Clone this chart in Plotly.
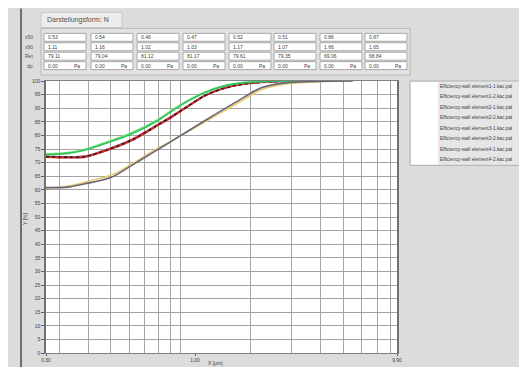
import math
import plotly.graph_objects as go

# ---------------- data ----------------
x_upper = [0.263, 0.328, 0.387, 0.487, 0.613, 0.799, 0.911, 1.075, 1.268, 1.546, 1.884, 2.452, 3.192, 3.90]
eff_e1_1 = [72.0, 71.8, 72.0, 74.6, 78.0, 83.7, 86.6, 90.6, 94.5, 97.3, 98.9, 99.7, 100.0, 100.0]
eff_e1_2 = [72.2, 72.0, 72.2, 74.8, 78.2, 83.9, 86.8, 90.8, 94.6, 97.4, 99.0, 99.7, 100.0, 100.0]
eff_e2_1 = [72.9, 73.4, 74.6, 77.4, 80.5, 85.5, 88.8, 92.6, 95.7, 98.2, 99.4, 99.9, 100.0, 100.0]
eff_e2_2 = [73.2, 73.7, 74.9, 77.8, 81.0, 85.9, 89.1, 92.9, 95.9, 98.3, 99.5, 99.9, 100.0, 100.0]
eff_e3_1 = [72.3, 72.1, 72.4, 75.0, 78.5, 84.1, 87.0, 90.9, 94.7, 97.5, 99.0, 99.7, 100.0, 100.0]
eff_e3_2 = [72.1, 71.9, 72.1, 74.7, 78.2, 83.8, 86.7, 90.7, 94.6, 97.4, 98.9, 99.7, 100.0, 100.0]

x_lower = [0.263, 0.328, 0.387, 0.503, 0.613, 0.748, 0.911, 1.268, 1.763, 2.221, 2.892, 4.156, 5.50]
eff_e4_1 = [60.6, 61.4, 62.8, 65.4, 69.4, 73.9, 78.0, 84.9, 91.9, 96.8, 99.0, 99.8, 100.0]
eff_e4_2 = [60.8, 61.0, 62.2, 64.6, 68.9, 73.4, 77.8, 85.4, 92.7, 97.5, 99.4, 99.9, 100.0]

series_names = [
    "Efficiency-wall element1-1.kac.pal",
    "Efficiency-wall element1-2.kac.pal",
    "Efficiency-wall element2-1.kac.pal",
    "Efficiency-wall element2-2.kac.pal",
    "Efficiency-wall element3-1.kac.pal",
    "Efficiency-wall element3-2.kac.pal",
    "Efficiency-wall element4-1.kac.pal",
    "Efficiency-wall element4-2.kac.pal",
]
series_colors = ["#e02828", "#3a1a1a", "#2ec45a", "#7ee07e", "#c04848", "#8a3a7a", "#e6cc6a", "#6a6478"]
series_dash = ["solid", "dot", "solid", "solid", "solid", "solid", "solid", "solid"]

row_labels = ["x50", "x90", "Ret", "dp"]
x50_vals = ["0.53", "0.54", "0.46", "0.47", "0.52", "0.51", "0.86", "0.87"]
x90_vals = ["1.11", "1.16", "1.02", "1.03", "1.17", "1.07", "1.66", "1.65"]
ret_vals = ["79.11", "79.04", "81.12", "81.17", "79.61", "79.35", "69.06", "68.84"]
dp_vals = ["0.00", "0.00", "0.00", "0.00", "0.00", "0.00", "0.00", "0.00"]

x_tick_vals = [0.263, 1.152, 8.53]
x_tick_text = ["0.30", "1.00", "9.90"]
x_grid_vals = [0.3, 0.4, 0.5, 0.6, 0.7, 0.8, 0.9, 1, 2, 3, 4, 5, 6, 7, 8, 9]
y_tick_vals = list(range(0, 101, 5))

# ---------------- layout helpers ----------------
W, H = 527, 367
L, R, T, B = 38, 138, 73, 20
PW, PH = W - L - R, H - T - B
FONT = "Arial, Liberation Sans, sans-serif"


def px(x):
    return (x - L) / PW


def py(y):
    return (H - B - y) / PH


fig = go.Figure()

ys = [eff_e1_1, eff_e1_2, eff_e2_1, eff_e2_2, eff_e3_1, eff_e3_2, eff_e4_1, eff_e4_2]
xs = [x_upper] * 6 + [x_lower] * 2
order = [4, 5, 0, 1, 3, 2, 6, 7]
for i in order:
    fig.add_trace(go.Scatter(
        x=xs[i], y=ys[i], mode="lines", name=series_names[i],
        line=dict(color=series_colors[i], width=1.6, dash=series_dash[i], shape="spline", smoothing=0.8),
        showlegend=False, hoverinfo="skip"))

shapes = []
annotations = []

# dark window border on the left
shapes.append(dict(type="line", xref="paper", yref="paper", x0=px(13), x1=px(13), y0=py(0), y1=py(367),
                   line=dict(color="#4a4a4a", width=1.5)))

# top tab
shapes.append(dict(type="rect", xref="paper", yref="paper", x0=px(33), x1=px(114), y0=py(19), y1=py(4),
                   fillcolor="#ececec", line=dict(color="#c8c8c8", width=1)))
annotations.append(dict(xref="paper", yref="paper", x=px(37), y=py(11.5), text="Darstellungsform: N",
                        showarrow=False, xanchor="left", yanchor="middle",
                        font=dict(family=FONT, size=7, color="#505050")))

# table panel
shapes.append(dict(type="rect", xref="paper", yref="paper", x0=px(33), x1=px(402), y0=py(67), y1=py(20),
                   fillcolor="#e2e2e2", line=dict(color="#b8b8b8", width=1)))

col_x = [36, 83, 129, 175, 221, 266, 312, 357]
row_y = [29, 38.5, 48, 57.5]
table = [x50_vals, x90_vals, ret_vals, dp_vals]
for r, lab in enumerate(row_labels):
    annotations.append(dict(xref="paper", yref="paper", x=px(27), y=py(row_y[r]), text=lab,
                            showarrow=False, xanchor="right", yanchor="middle",
                            font=dict(family=FONT, size=5, color="#505050")))
    for c, cx in enumerate(col_x):
        shapes.append(dict(type="rect", xref="paper", yref="paper", x0=px(cx), x1=px(cx + 42),
                           y0=py(row_y[r] + 4), y1=py(row_y[r] - 4),
                           fillcolor="#ffffff", line=dict(color="#a8a8a8", width=1)))
        annotations.append(dict(xref="paper", yref="paper", x=px(cx + 2), y=py(row_y[r]), text=table[r][c],
                                showarrow=False, xanchor="left", yanchor="middle",
                                font=dict(family=FONT, size=5, color="#404040")))
        if r == 3:
            annotations.append(dict(xref="paper", yref="paper", x=px(cx + 28), y=py(row_y[r]), text="Pa",
                                    showarrow=False, xanchor="left", yanchor="middle",
                                    font=dict(family=FONT, size=5, color="#404040")))

# legend panel
shapes.append(dict(type="rect", xref="paper", yref="paper", x0=px(402), x1=px(527), y0=py(158), y1=py(73),
                   fillcolor="#e6e6e6", line=dict(color="#b0b0b0", width=1)))
shapes.append(dict(type="rect", xref="paper", yref="paper", x0=px(403), x1=px(430), y0=py(157), y1=py(74),
                   fillcolor="#ffffff", line=dict(width=0)))
leg_y = [78.5, 89, 99.5, 110, 120.5, 131, 141.5, 152]
for i, name in enumerate(series_names):
    annotations.append(dict(xref="paper", yref="paper", x=px(430), y=py(leg_y[i]), text=name,
                            showarrow=False, xanchor="left", yanchor="middle",
                            font=dict(family=FONT, size=4.8, color="#404040")))
    shapes.append(dict(type="line", xref="paper", yref="paper", x0=px(516), x1=px(523),
                       y0=py(leg_y[i] + 2.5), y1=py(leg_y[i] - 3.5),
                       line=dict(color=series_colors[i], width=1.8)))
shapes.append(dict(type="rect", xref="paper", yref="paper", x0=px(515), x1=px(524), y0=py(82.5), y1=py(74.5),
                   line=dict(color="#e02828", width=1)))

# axis titles
annotations.append(dict(xref="paper", yref="paper", x=px(207), y=py(357), text="X [µm]",
                        showarrow=False, xanchor="center", yanchor="middle", borderpad=0,
                        font=dict(family=FONT, size=5, color="#404040")))
annotations.append(dict(xref="paper", yref="paper", x=px(17), y=py(212), text="Y [%]",
                        showarrow=False, xanchor="center", yanchor="middle", textangle=-90,
                        font=dict(family=FONT, size=5, color="#404040")))

fig.update_layout(
    width=W, height=H,
    margin=dict(l=L, r=R, t=T, b=B),
    paper_bgcolor="#dcdcdc",
    plot_bgcolor="#ffffff",
    font=dict(family=FONT, size=5, color="#404040"),
    shapes=shapes,
    annotations=annotations,
    showlegend=False,
)
fig.update_xaxes(
    type="log",
    range=[math.log10(x_tick_vals[0]), math.log10(x_tick_vals[-1])],
    tickmode="array", tickvals=x_tick_vals, ticktext=x_tick_text,
    ticks="outside", ticklen=2, tickcolor="#606060",
    tickfont=dict(family=FONT, size=5, color="#404040"),
    showgrid=False,
    minor=dict(tickmode="array", tickvals=x_grid_vals, showgrid=True, gridcolor="#a4a4a4", gridwidth=1, ticks=""),
    showline=True, linecolor="#808080", linewidth=1, mirror=True,
    zeroline=False,
)
fig.update_yaxes(
    range=[0, 100],
    tickmode="array", tickvals=y_tick_vals, ticktext=[str(v) for v in y_tick_vals],
    ticks="outside", ticklen=3, tickcolor="#606060",
    tickfont=dict(family=FONT, size=5, color="#404040"),
    showgrid=True, gridcolor="#a4a4a4", gridwidth=1,
    showline=True, linecolor="#707070", linewidth=1.5, mirror=True,
    zeroline=False,
)

fig.write_html("out.html")
